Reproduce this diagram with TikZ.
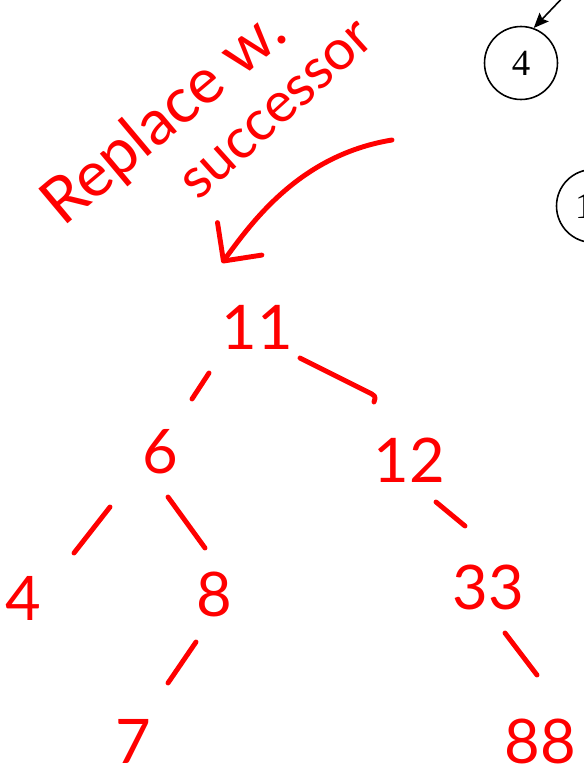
\documentclass[tikz,border=0pt]{standalone}
\usepackage{fontspec}
\setmainfont{Lato}
\newfontfamily\slidefont{Liberation Serif}
\usetikzlibrary{arrows.meta}
\definecolor{pen}{RGB}{255,0,0}

\tikzset{
  num/.style={text=pen, inner sep=0pt, font=\fontsize{35}{35}\selectfont},
  scrawl/.style={text=pen, inner sep=0pt},
  pencil/.style={draw=pen, line width=2.8pt, line cap=round, line join=round},
  keynode/.style={circle, draw, line width=0.9pt, minimum size=1.46cm, inner sep=0pt,
    font=\slidefont\fontsize{21}{21}\selectfont},
}

\begin{document}
\begin{tikzpicture}[x=0.02cm, y=-0.02cm]
  \useasboundingbox (0,0) rectangle (583,771);

  % slide behind the notes
  \node[keynode] (key4) at (521,63) {4};
  \node[keynode] (key11) at (593,206) {11};
  \coordinate (from) at (568,-8);
  \draw[line width=0.9pt, -{Stealth[length=0.3cm, width=0.25cm, inset=0.05cm]}] (from) -- (key4.70);

  % note
  \node[scrawl, rotate=40, font=\fontsize{36}{36}\selectfont] (note1) at (165,119) {Replace w.};
  \node[scrawl, rotate=42, font=\fontsize{32}{32}\selectfont] (note2) at (278,111) {successor};
  \coordinate (tail) at (392,140);
  \coordinate (tip) at (222,263);
  \draw[pencil, -{Straight Barb[length=0.55cm, width=1.1cm, round]}]
    (tail) .. controls (300,155) and (252,222) .. (tip);

  % tree
  \node[num] (n11) at (257,327) {11};
  \node[num] (n6) at (160,452) {6};
  \node[num] (n12) at (409,460) {12};
  \node[num] (n4) at (23,598) {4};
  \node[num] (n8) at (214,594) {8};
  \node[num] (n33) at (488,587) {33};
  \node[num] (n7) at (133,741) {7};
  \node[num] (n88) at (540,741) {88};

  \draw[pencil] ([shift={(-48,46)}]n11.center) -- ([shift={(32,-53)}]n6.center);
  \draw[pencil] ([shift={(43,31)}]n11.center) -- ([shift={(-43,-69)}]n12.center)
    .. controls ([shift={(-33,-64)}]n12.center) .. ([shift={(-35,-58)}]n12.center);
  \draw[pencil] ([shift={(-50,55)}]n6.center) -- ([shift={(51,-45)}]n4.center);
  \draw[pencil] ([shift={(8,45)}]n6.center) -- ([shift={(-9,-46)}]n8.center);
  \draw[pencil] ([shift={(27,42)}]n12.center) -- ([shift={(-23,-61)}]n33.center);
  \draw[pencil] ([shift={(-18,48)}]n8.center) -- ([shift={(35,-58)}]n7.center);
  \draw[pencil] ([shift={(17,46)}]n33.center) -- ([shift={(-3,-66)}]n88.center);
\end{tikzpicture}
\end{document}
